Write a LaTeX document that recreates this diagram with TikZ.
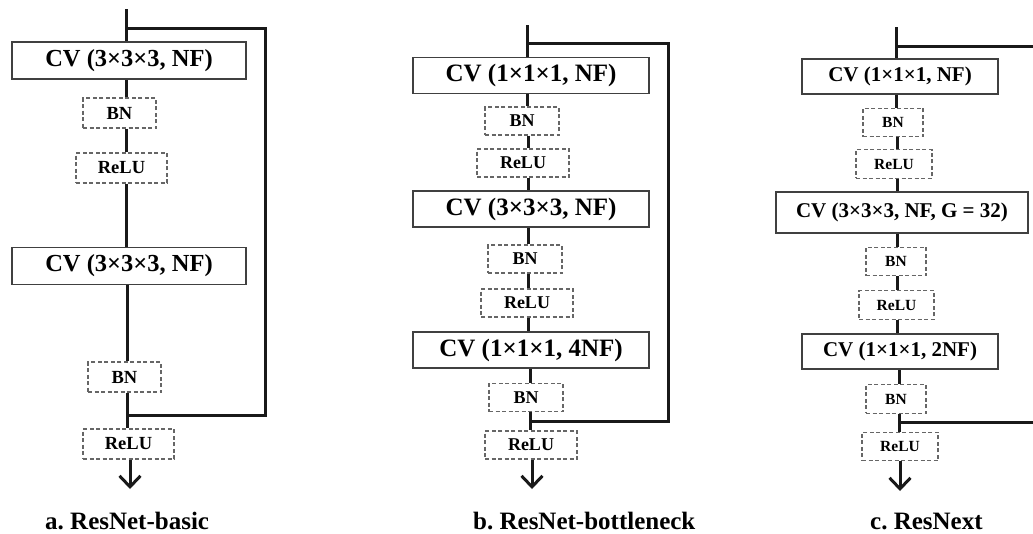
\documentclass[tikz,border=0pt]{standalone}
\usepackage{fontspec}
\setmainfont{Liberation Serif}
\usetikzlibrary{arrows.meta}
\frenchspacing

\tikzset{
  wire/.style={line width=3pt, draw=black!90},
  cvbox/.style={draw=black!75, line width=1.5pt, fill=white, inner sep=0pt},
  opbox/.style={draw=black!60, line width=1.1pt, dash pattern=on 4pt off 2.5pt,
                fill=white, inner sep=0pt},
  outarrow/.style={line width=3pt, draw=black!90,
                   -{Straight Barb[length=11pt, width=21pt]}},
  captext/.style={anchor=base west, inner sep=0pt,
                  font=\fontsize{25}{30}\selectfont\bfseries},
  cvA/.style={cvbox, minimum width=234pt, minimum height=37pt,
              font=\fontsize{24.5}{28}\selectfont\bfseries},
  opA/.style={opbox, minimum height=30pt,
              font=\fontsize{18.5}{22}\selectfont\bfseries},
  cvB/.style={cvbox, minimum width=236pt, minimum height=36pt,
              font=\fontsize{25}{28}\selectfont\bfseries},
  opB/.style={opbox, minimum height=28pt,
              font=\fontsize{18}{22}\selectfont\bfseries},
  cvC/.style={cvbox, minimum height=35pt,
              font=\fontsize{21}{24}\selectfont\bfseries},
  opC/.style={opbox, minimum height=28.5pt,
              font=\fontsize{15.5}{18}\selectfont\bfseries}
}

\begin{document}
\begin{tikzpicture}[x=1pt, y=-1pt]
\useasboundingbox (0,0) rectangle (1033,533);

% ---------------- a. ResNet-basic ----------------
\coordinate (sa) at (126,0);
\coordinate (inA) at (126,9);
\coordinate (skA1) at (126,28);
\coordinate (skA2) at (265,28);
\coordinate (skA3) at (265,415);
\coordinate (skA4) at (127,415);
\coordinate (outA) at (130,489);
\node[cvA] (cva1) at (129,60.5) {CV (3×3×3, NF)};
\node[opA, minimum width=73pt] (bna1) at (119.5,113) {BN};
\node[opA, minimum width=91pt] (rea1) at (121.5,168) {ReLU};
\node[cvA] (cva2) at (129,266) {CV (3×3×3, NF)};
\node[opA, minimum width=73pt] (bna2) at (124.5,377) {BN};
\node[opA, minimum width=91pt] (rea2) at (128.5,444) {ReLU};

\draw[wire] (inA) -- (cva1.north -| sa);
\draw[wire] (cva1.south -| sa) -- (bna1.north -| sa);
\draw[wire] (bna1.south -| sa) -- (rea1.north -| sa);
\draw[wire] (rea1.south -| sa) -- (cva2.north -| sa);
\draw[wire] (cva2.south -| skA4) -- (bna2.north -| skA4);
\draw[wire] (bna2.south -| skA4) -- (rea2.north -| skA4);
\draw[wire] (skA1) -- (skA2) -- (skA3) -- (skA4);
\draw[outarrow] (rea2.south -| outA) -- (outA);
\node[captext] (capA) at (45,529) {a. ResNet-basic};

% ---------------- b. ResNet-bottleneck ----------------
\coordinate (sb) at (528,0);
\coordinate (inB) at (527,25);
\coordinate (skB1) at (527,43);
\coordinate (skB2) at (668,43);
\coordinate (skB3) at (668,421);
\coordinate (skB4) at (530,421);
\coordinate (outB) at (532,489);
\node[cvB] (cvb1) at (531,75.5) {CV (1×1×1, NF)};
\node[opB, minimum width=74pt] (bnb1) at (522,121) {BN};
\node[opB, minimum width=92pt] (reb1) at (523,163) {ReLU};
\node[cvB] (cvb2) at (531,209) {CV (3×3×3, NF)};
\node[opB, minimum width=74pt] (bnb2) at (525,259) {BN};
\node[opB, minimum width=92pt] (reb2) at (527,303) {ReLU};
\node[cvB] (cvb3) at (531,350) {CV (1×1×1, 4NF)};
\node[opB, minimum width=74pt] (bnb3) at (526,397.5) {BN};
\node[opB, minimum width=92pt] (reb3) at (531,445) {ReLU};

\draw[wire] (inB) -- (cvb1.north -| inB);
\draw[wire] (cvb1.south -| inB) -- (bnb1.north -| inB);
\draw[wire] (bnb1.south -| sb) -- (reb1.north -| sb);
\draw[wire] (reb1.south -| sb) -- (cvb2.north -| sb);
\draw[wire] (cvb2.south -| sb) -- (bnb2.north -| sb);
\draw[wire] (bnb2.south -| sb) -- (reb2.north -| sb);
\draw[wire] (reb2.south -| sb) -- (cvb3.north -| sb);
\draw[wire] (cvb3.south -| skB4) -- (bnb3.north -| skB4);
\draw[wire] (bnb3.south -| skB4) -- (reb3.north -| skB4);
\draw[wire] (skB1) -- (skB2) -- (skB3) -- (skB4);
\draw[outarrow] (reb3.south -| outB) -- (outB);
\node[captext] (capB) at (473,529) {b. ResNet-bottleneck};

% ---------------- c. ResNext ----------------
\coordinate (sc) at (897,0);
\coordinate (inC) at (896,27);
\coordinate (skC1) at (896,46);
\coordinate (skC2) at (1033,46);
\coordinate (skC3) at (1033,422);
\coordinate (skC4) at (899,422);
\coordinate (outC) at (900,491);
\node[cvC, minimum width=196pt] (cvc1) at (900,76.5) {CV (1×1×1, NF)};
\node[opC, minimum width=60pt] (bnc1) at (893,122.5) {BN};
\node[opC, minimum width=76pt] (rec1) at (894,164) {ReLU};
\node[cvC, minimum width=252pt, minimum height=41pt] (cvc2) at (902,212.5) {CV (3×3×3, NF, G = 32)};
\node[opC, minimum width=60pt] (bnc2) at (896,261.5) {BN};
\node[opC, minimum width=75pt] (rec2) at (896.5,305) {ReLU};
\node[cvC, minimum width=196pt] (cvc3) at (900,351.5) {CV (1×1×1, 2NF)};
\node[opC, minimum width=60pt] (bnc3) at (896,399) {BN};
\node[opC, minimum width=76pt] (rec3) at (900,446.5) {ReLU};

\draw[wire] (inC) -- (cvc1.north -| inC);
\draw[wire] (cvc1.south -| inC) -- (bnc1.north -| inC);
\draw[wire] (bnc1.south -| sc) -- (rec1.north -| sc);
\draw[wire] (rec1.south -| sc) -- (cvc2.north -| sc);
\draw[wire] (cvc2.south -| sc) -- (bnc2.north -| sc);
\draw[wire] (bnc2.south -| sc) -- (rec2.north -| sc);
\draw[wire] (rec2.south -| sc) -- (cvc3.north -| sc);
\draw[wire] (cvc3.south -| skC4) -- (bnc3.north -| skC4);
\draw[wire] (bnc3.south -| skC4) -- (rec3.north -| skC4);
% the shortcut runs on past the right border
\draw[wire] (skC1) -- (skC2);
\draw[wire] (skC3) -- (skC4);
\draw[outarrow] (rec3.south -| outC) -- (outC);
\node[captext] (capC) at (870,529) {c. ResNext};
\end{tikzpicture}
\end{document}
